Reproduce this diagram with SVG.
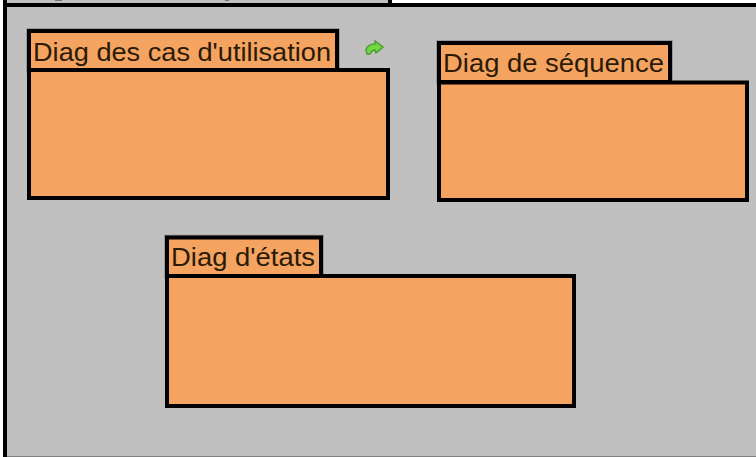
<svg xmlns="http://www.w3.org/2000/svg" width="756" height="457" viewBox="0 0 756 457">
<style>
.b{fill:#f4a460;stroke:#000;stroke-width:4}
.h{fill:none;stroke:#8c8c8c;stroke-width:5.5}
.t{font-family:"Liberation Sans",Arial,sans-serif;font-size:25px;fill:#2b1a08}
.f{fill:none;stroke:#000;stroke-width:4}
</style>
<rect width="756" height="457" fill="#fff"/>
<rect x="5" y="5" width="760" height="460" fill="#c0c0c0" stroke="#000" stroke-width="4"/>
<rect x="7" y="0" width="381" height="3" fill="#c0c0c0"/>
<path d="M55 0h7v1h-7zM225 0h4v1h-4z" fill="#777"/>
<path class="f" d="M5 3V-4M390 4V-4"/>
<rect x="7" y="456" width="749" height="1" fill="#808080"/>
<g id="cas">
<rect class="h" x="29" y="31" width="308" height="39"/>
<rect class="b" x="29" y="31" width="308" height="39"/>
<rect class="b" x="29" y="70" width="359" height="128"/>
<text class="t" x="33" y="61" textLength="298" lengthAdjust="spacingAndGlyphs">Diag des cas d'utilisation</text>
</g>
<g id="sequence">
<rect class="h" x="439" y="43" width="231" height="39"/>
<rect class="b" x="439" y="43" width="231" height="39"/>
<rect class="b" x="439" y="82.500" width="308" height="117.500"/>
<text class="t" x="443" y="72" textLength="221" lengthAdjust="spacingAndGlyphs">Diag de séquence</text>
</g>
<g id="etats">
<rect class="h" x="167" y="237.500" width="154" height="38.500"/>
<rect class="b" x="167" y="237.500" width="154" height="38.500"/>
<rect class="b" x="167" y="276" width="407" height="130"/>
<text class="t" x="171" y="266" textLength="144" lengthAdjust="spacingAndGlyphs">Diag d'états</text>
</g>
<g id="connectors"></g>
<path id="arrow" d="M366 50C367 46 371 44 375 44L375 41L383 47L376 53L375 50C372 50 371 52 370 54L367 54Z" fill="#6fdc3c" stroke="#4f9a3c" stroke-width="1.500"/>
</svg>
